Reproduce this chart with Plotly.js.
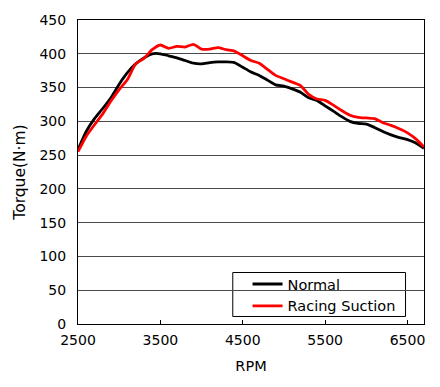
<!DOCTYPE html>
<html>
<head>
<meta charset="utf-8">
<script src="https://cdn.plot.ly/plotly-3.0.1.min.js"></script>
<style>html,body{margin:0;padding:0;background:#fff;}#chart{width:440px;height:387px;}</style>
</head>
<body>
<div id="chart"></div>
<script>
const rpm = [2500,2600,2700,2800,2900,3000,3100,3200,3300,3400,3500,3600,3700,3800,3900,4000,4100,4200,4300,4400,4500,4600,4700,4800,4900,5000,5100,5200,5300,5400,5500,5600,5700,5800,5900,6000,6100,6200,6300,6400,6500,6600,6700];
const normalTorque = [258,285,304,319,335,355,372,385,394,400,400,397,394,390,386,385,387,388,388,387,380,373,368,361,354,352,348,343,335,331,323,315,307,300,297,296,291,285,280,276,273,268,260];
const racingTorque = [255,278,295,311,330,347,362,385,393,406,413,408,411,410,414,407,407,409,406,404,397,390,386,377,368,363,358,353,340,333,331,324,316,309,306,305,304,298,294,289,283,274,262];
const seriesNames = ["Normal", "Racing Suction"];
const xTicks = [2500,3500,4500,5500,6500];
const yTicks = [0,50,100,150,200,250,300,350,400,450];

const font = "DejaVu Sans, Verdana, sans-serif";
const traces = [
  {x: rpm, y: normalTorque, name: seriesNames[0], type: "scatter", mode: "lines",
   line: {color: "#000000", width: 2.8, shape: "spline", smoothing: 0.6}},
  {x: rpm, y: racingTorque, name: seriesNames[1], type: "scatter", mode: "lines",
   line: {color: "#ff0000", width: 2.8, shape: "spline", smoothing: 0.6}}
];
const layout = {
  width: 440, height: 387,
  margin: {l: 78, r: 15.5, t: 20, b: 63},
  paper_bgcolor: "#ffffff", plot_bgcolor: "#ffffff",
  font: {family: font, size: 14, color: "#000"},
  showlegend: true,
  legend: {x: 0.49, y: 0.184, xanchor: "left", yanchor: "top",
    borderwidth: 0, bgcolor: "rgba(0,0,0,0)",
    font: {family: font, size: 14.5, color: "#000"}, tracegroupgap: 0},
  shapes: [
    {type: "rect", xref: "paper", yref: "paper", x0: 0.4473, x1: 0.9466, y0: 0.0247, y1: 0.1694,
     line: {color: "#000", width: 1}, fillcolor: "#fff", layer: "between"}
  ],
  xaxis: {range: [2500, 6700], tickvals: xTicks, ticktext: xTicks.map(String),
    showgrid: false, zeroline: false, showline: true, linecolor: "#000", linewidth: 1, mirror: true,
    ticks: "inside", ticklen: 4, tickcolor: "#000", ticklabelstandoff: 3,
    tickfont: {family: font, size: 14},
    title: {text: "RPM", font: {family: font, size: 14.5}, standoff: 14}},
  yaxis: {range: [0, 450], tickvals: yTicks, ticktext: yTicks.map(String),
    showgrid: true, gridcolor: "#4a4a4a", gridwidth: 1, zeroline: false,
    showline: true, linecolor: "#000", linewidth: 1, mirror: true,
    ticks: "", tickfont: {family: font, size: 14}, ticklabelstandoff: 8,
    title: {text: "Torque(N·m)", font: {family: font, size: 15.5}, standoff: 10}}
};
Plotly.newPlot("chart", traces, layout, {staticPlot: true, displayModeBar: false});
</script>
</body>
</html>
